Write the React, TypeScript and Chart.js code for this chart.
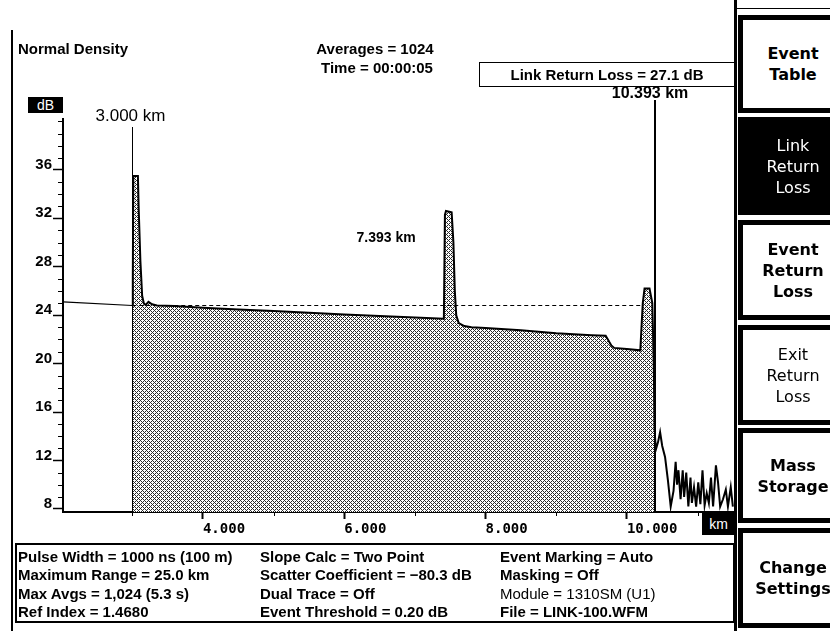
import React, { useEffect, useRef } from "react";
import { Chart, registerables } from "chart.js";

Chart.register(...registerables);

const traceKm = [3.0, 3.008, 3.015, 3.08, 3.09, 3.115, 3.14, 3.165, 3.19, 3.23, 3.28, 3.35, 3.6, 4.0, 4.5, 5.0, 5.5, 6.0, 6.5, 7.0, 7.41, 7.425, 7.44, 7.52, 7.545, 7.565, 7.585, 7.62, 7.7, 7.8, 8.0, 8.5, 9.0, 9.5, 9.7, 9.78, 9.82, 10.0, 10.19, 10.205, 10.225, 10.25, 10.32, 10.36, 10.38, 10.393];
const traceDb = [24.8, 27.0, 35.5, 35.5, 33.0, 28.5, 25.6, 24.95, 24.85, 25.1, 24.9, 24.8, 24.75, 24.62, 24.48, 24.35, 24.2, 24.05, 23.93, 23.8, 23.7, 32.3, 32.6, 32.5, 30.0, 26.0, 24.0, 23.35, 23.1, 23.0, 22.95, 22.75, 22.5, 22.35, 22.3, 21.5, 21.3, 21.2, 21.1, 22.8, 25.0, 26.2, 26.2, 25.0, 20.0, 14.4];

const noiseKm = [10.393, 10.41, 10.44, 10.47, 10.5, 10.54, 10.58, 10.62, 10.66, 10.69, 10.71, 10.73, 10.76, 10.79, 10.81, 10.84, 10.87, 10.9, 10.92, 10.95, 10.98, 11.01, 11.04, 11.07, 11.1, 11.13, 11.16, 11.19, 11.22, 11.26, 11.29, 11.32, 11.36, 11.4, 11.43, 11.47, 11.5];
const noiseDb = [14.4, 12.9, 13.5, 14.35, 13.2, 12.3, 10.4, 8.2, 9.5, 11.9, 10.0, 11.2, 8.8, 11.2, 9.0, 11.0, 8.2, 10.6, 8.5, 9.8, 8.2, 10.2, 8.4, 11.2, 8.3, 9.3, 8.5, 10.6, 8.2, 11.6, 10.2, 8.2, 8.8, 9.6, 8.2, 9.8, 8.2];

const fitKm = [2.02, 3.0];
const fitDb = [25.1, 24.8];

const refKm = [3.0, 10.22];
const refDb = [24.8, 24.8];

const markerKm = [3.0, 10.393];
const markerLabels = ["3.000 km", "10.393 km"];
const eventKm = [7.393];
const eventLabels = ["7.393 km"];

const xTickValues = [3, 4, 5, 6, 7, 8, 9, 10, 11];
const xLabeled = [4, 6, 8, 10];
const yTickValues = [8, 9, 10, 11, 12, 13, 14, 15, 16, 17, 18, 19, 20, 21, 22, 23, 24, 25, 26, 27, 28, 29, 30, 31, 32, 33, 34, 35, 36, 37, 38, 39, 40];
const yLabeled = [8, 12, 16, 20, 24, 28, 32, 36];

const infoCol1 = ["Pulse Width = 1000 ns (100 m)", "Maximum Range = 25.0 km", "Max Avgs = 1,024 (5.3 s)", "Ref Index = 1.4680"];
const infoCol2 = ["Slope Calc = Two Point", "Scatter Coefficient = \u221280.3 dB", "Dual Trace = Off", "Event Threshold = 0.20 dB"];
const infoCol3 = ["Event Marking = Auto", "Masking = Off", "Module = 1310SM (U1)", "File = LINK-100.WFM"];
const infoCol3Weights = [700, 700, 400, 700];

const buttonLabels = [["Event", "Table"], ["Link", "Return", "Loss"], ["Event", "Return", "Loss"], ["Exit", "Return", "Loss"], ["Mass", "Storage"], ["Change", "Settings"]];

// ---- styles / layout ----
const markerStyle = [
  { top: 127, width: 1, font: "17px 'Liberation Sans', Arial, sans-serif", labelY: 116, dx: -2 },
  { top: 100, width: 2, font: "bold 16px 'Liberation Sans', Arial, sans-serif", labelY: 94, dx: -5 },
];
const buttonBoxes = [
  { top: 15, height: 98, dark: false, bold: true },
  { top: 117, height: 98, dark: true, bold: false },
  { top: 220, height: 100, dark: false, bold: true },
  { top: 325, height: 100, dark: false, bold: false },
  { top: 428, height: 95, dark: false, bold: true },
  { top: 528, height: 100, dark: false, bold: true },
];
const infoRows = [557, 575, 594, 612];

function makePattern(ctx: CanvasRenderingContext2D) {
  const c = document.createElement("canvas");
  c.width = 4;
  c.height = 4;
  const g = c.getContext("2d")!;
  g.fillStyle = "#ffffff";
  g.fillRect(0, 0, 4, 4);
  g.fillStyle = "#2a2a2a";
  for (let i = 0; i < 4; i++) {
    g.fillRect(i, i, 1, 1);
    g.fillRect(i, (4 - i) % 4, 1, 1);
  }
  return ctx.createPattern(c, "repeat");
}

const markerPlugin = {
  id: "markers",
  afterDatasetsDraw(chart: any) {
    const { ctx, scales, chartArea } = chart;
    const x = scales.x;
    const y = scales.y;
    ctx.save();
    ctx.fillStyle = "#000";
    ctx.strokeStyle = "#000";
    // minor ticks (short)
    ctx.lineWidth = 1;
    yTickValues.forEach((v) => {
      if (yLabeled.includes(v)) return;
      const py = Math.round(y.getPixelForValue(v)) + 0.5;
      ctx.beginPath();
      ctx.moveTo(chartArea.left - 5, py);
      ctx.lineTo(chartArea.left, py);
      ctx.stroke();
    });
    xTickValues.forEach((v) => {
      if (xLabeled.includes(v)) return;
      const px = Math.round(x.getPixelForValue(v)) + 0.5;
      ctx.beginPath();
      ctx.moveTo(px, chartArea.bottom);
      ctx.lineTo(px, chartArea.bottom + 4);
      ctx.stroke();
    });
    markerKm.forEach((km, i) => {
      const st = markerStyle[i];
      const px = Math.round(x.getPixelForValue(km)) + (st.width === 1 ? 0.5 : 0);
      ctx.lineWidth = st.width;
      ctx.beginPath();
      ctx.moveTo(px, st.top);
      ctx.lineTo(px, chartArea.bottom);
      ctx.stroke();
      ctx.font = st.font;
      ctx.textAlign = "center";
      ctx.textBaseline = "middle";
      ctx.fillText(markerLabels[i], px + st.dx, st.labelY);
    });
    eventKm.forEach((km, i) => {
      const px = x.getPixelForValue(km);
      ctx.font = "bold 14px 'Liberation Sans', Arial, sans-serif";
      ctx.textAlign = "right";
      ctx.textBaseline = "middle";
      ctx.fillText(eventLabels[i], px - 27, 238);
    });
    ctx.restore();
  },
};

function toPts(xs: number[], ys: number[]) {
  return xs.map((v, i) => ({ x: v, y: ys[i] }));
}

const boldSans = "'Liberation Sans', Arial, sans-serif";

export default function App() {
  const canvasRef = useRef<HTMLCanvasElement | null>(null);

  useEffect(() => {
    const canvas = canvasRef.current!;
    const ctx = canvas.getContext("2d")!;
    const pattern = makePattern(ctx);
    const chart = new Chart(ctx, {
      type: "line",
      data: {
        datasets: [
          {
            data: toPts(refKm, refDb),
            borderColor: "#000",
            borderWidth: 1,
            borderDash: [4, 3],
            pointRadius: 0,
            fill: false,
          },
          {
            data: toPts(fitKm, fitDb),
            borderColor: "#000",
            borderWidth: 1.2,
            pointRadius: 0,
            fill: false,
          },
          {
            data: toPts(traceKm, traceDb),
            borderColor: "#000",
            borderWidth: 2,
            pointRadius: 0,
            fill: "start",
            backgroundColor: pattern as any,
          },
          {
            data: toPts(noiseKm, noiseDb),
            borderColor: "#000",
            borderWidth: 2,
            pointRadius: 0,
            fill: false,
          },
        ],
      },
      options: {
        animation: false,
        responsive: false,
        maintainAspectRatio: false,
        layout: { padding: { left: 13, top: 119, right: 95, bottom: 89 } },
        plugins: { legend: { display: false }, tooltip: { enabled: false } },
        elements: { line: { tension: 0 } },
        scales: {
          x: {
            type: "linear",
            min: 2.02,
            max: 11.53,
            afterBuildTicks: (s: any) => {
              s.ticks = xTickValues.map((v) => ({ value: v }));
            },
            afterFit: (s: any) => {
              s.height = 30;
            },
            border: { display: true, color: "#000", width: 2 },
            grid: {
              drawOnChartArea: false,
              drawTicks: true,
              tickLength: 7,
              tickColor: (c: any) => (xLabeled.includes(c.tick?.value) ? "#000" : "rgba(0,0,0,0)"),
              tickWidth: 2,
            },
            ticks: {
              autoSkip: false,
              maxRotation: 0,
              align: "start",
              padding: 2,
              color: "#000",
              font: { family: "'DejaVu Sans Mono', monospace", size: 14, weight: "bold" },
              callback: (v: any) => (xLabeled.includes(Number(v)) ? Number(v).toFixed(3) : ""),
            },
          },
          y: {
            type: "linear",
            min: 7.75,
            max: 40.2,
            afterBuildTicks: (s: any) => {
              s.ticks = yTickValues.map((v) => ({ value: v }));
            },
            afterFit: (s: any) => {
              s.width = 50;
            },
            border: { display: true, color: "#000", width: 2 },
            grid: {
              drawOnChartArea: false,
              drawTicks: true,
              tickLength: 10,
              tickColor: (c: any) => (yLabeled.includes(c.tick?.value) ? "#000" : "rgba(0,0,0,0)"),
              tickWidth: 1.5,
            },
            ticks: {
              autoSkip: false,
              padding: 1,
              labelOffset: -5,
              color: "#000",
              font: { family: boldSans, size: 15, weight: "bold" },
              callback: (v: any) => (yLabeled.includes(Number(v)) ? String(v) : ""),
            },
          },
        },
      },
      plugins: [markerPlugin],
    } as any);
    return () => chart.destroy();
  }, []);

  const abs = (o: React.CSSProperties): React.CSSProperties => ({ position: "absolute", ...o });

  return (
    <div style={abs({ left: 0, top: 0, width: 830, height: 631, overflow: "hidden", background: "#fff", color: "#000", fontFamily: boldSans })}>
      <canvas ref={canvasRef} width={830} height={631} style={abs({ left: 0, top: 0, width: 830, height: 631 })} />

      {/* frame lines */}
      <div style={abs({ left: 11, top: 30, width: 2, height: 601, background: "#000" })} />
      <div style={abs({ left: 734, top: 0, width: 3, height: 631, background: "#000" })} />
      <div style={abs({ left: 735, top: 8, width: 95, height: 1, background: "#000" })} />

      {/* header */}
      <div style={abs({ left: 18, top: 40, fontSize: 15, fontWeight: 700, lineHeight: "18px", whiteSpace: "nowrap" })}>Normal Density</div>
      <div style={abs({ left: 275, top: 40, width: 200, textAlign: "center", fontSize: 15, fontWeight: 700, lineHeight: "18px" })}>Averages = 1024</div>
      <div style={abs({ left: 277, top: 59, width: 200, textAlign: "center", fontSize: 15, fontWeight: 700, lineHeight: "18px" })}>Time = 00:00:05</div>
      <div style={abs({ left: 479, top: 62, width: 254, height: 23, border: "1.5px solid #000", textAlign: "center", fontSize: 15, fontWeight: 700, lineHeight: "23px", whiteSpace: "nowrap" })}>Link Return Loss = 27.1 dB</div>

      {/* axis unit boxes */}
      <div style={abs({ left: 28, top: 97, width: 35, height: 16, background: "#000", color: "#fff", fontSize: 14, lineHeight: "16px", textAlign: "center" })}>dB</div>
      <div style={abs({ left: 702, top: 513, width: 33, height: 22, background: "#000", color: "#fff", fontSize: 14, lineHeight: "22px", textAlign: "center" })}>km</div>

      {/* info panel */}
      <div style={abs({ left: 15, top: 543, width: 716, height: 76, border: "2px solid #000" })} />
      {infoRows.map((y, i) => (
        <React.Fragment key={i}>
          <div style={abs({ left: 18, top: y - 9, fontSize: 15, fontWeight: 700, lineHeight: "18px", whiteSpace: "nowrap" })}>{infoCol1[i]}</div>
          <div style={abs({ left: 260, top: y - 9, fontSize: 15, fontWeight: 700, lineHeight: "18px", whiteSpace: "nowrap" })}>{infoCol2[i]}</div>
          <div style={abs({ left: 500, top: y - 9, fontSize: 15, fontWeight: infoCol3Weights[i], lineHeight: "18px", whiteSpace: "nowrap" })}>{infoCol3[i]}</div>
        </React.Fragment>
      ))}

      {/* soft-key buttons */}
      {buttonBoxes.map((b, i) => (
        <div
          key={i}
          style={abs({
            left: 738,
            top: b.top,
            width: 110,
            height: b.height,
            boxSizing: "border-box",
            border: "5px solid #000",
            background: b.dark ? "#000" : "#fff",
            color: b.dark ? "#fff" : "#000",
            display: "flex",
            flexDirection: "column",
            alignItems: "center",
            justifyContent: "center",
            fontFamily: "'DejaVu Sans', Verdana, sans-serif",
            fontWeight: b.bold ? 700 : 400,
            fontSize: 16,
            lineHeight: "21px",
          })}
        >
          {buttonLabels[i].map((t, j) => (
            <div key={j} style={{ whiteSpace: "nowrap" }}>{t}</div>
          ))}
        </div>
      ))}
    </div>
  );
}
